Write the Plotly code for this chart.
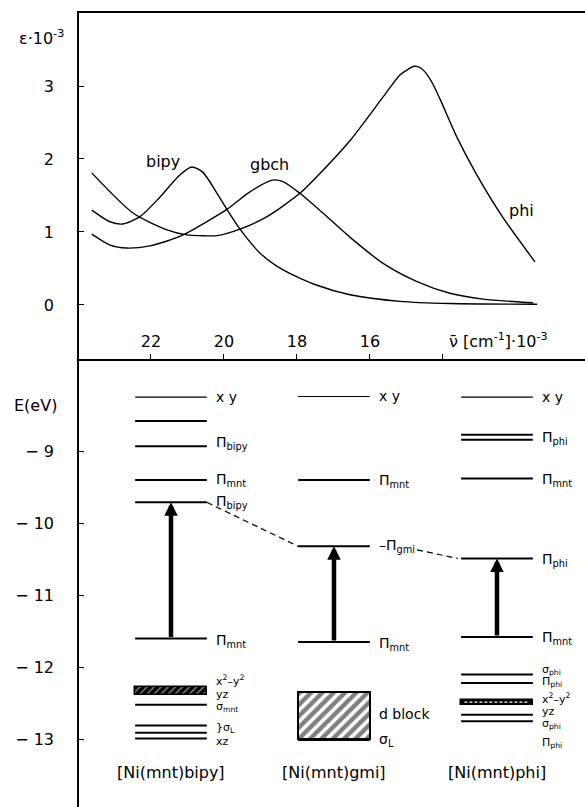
import plotly.graph_objects as go

# ---------------- top panel: absorption spectra ----------------
bipy_nu = [23.62, 23.12, 22.77, 22.30, 21.75, 21.21, 20.88, 20.58, 20.19, 19.92, 19.56, 19.01, 18.38, 17.45, 16.55, 15.18, 13.81, 11.42]
bipy_eps = [1.30, 1.14, 1.11, 1.21, 1.48, 1.78, 1.89, 1.82, 1.53, 1.31, 1.04, 0.71, 0.48, 0.27, 0.14, 0.05, 0.02, 0.01]

gbch_nu = [23.62, 23.12, 22.66, 22.03, 21.60, 21.12, 19.92, 19.29, 18.68, 18.38, 17.92, 17.29, 16.55, 15.64, 14.71, 13.81, 12.90, 11.53]
gbch_eps = [0.97, 0.82, 0.78, 0.81, 0.87, 0.96, 1.31, 1.55, 1.71, 1.69, 1.53, 1.26, 0.93, 0.57, 0.32, 0.16, 0.08, 0.03]

phi_nu = [23.62, 22.49, 21.56, 21.01, 20.66, 20.19, 19.56, 18.82, 17.92, 17.45, 16.55, 15.64, 15.18, 14.95, 14.80, 14.62, 14.44, 14.27, 14.08, 13.62, 13.07, 12.36, 11.48]
phi_eps = [1.81, 1.26, 1.03, 0.96, 0.95, 0.95, 1.04, 1.21, 1.53, 1.76, 2.25, 2.85, 3.15, 3.23, 3.27, 3.25, 3.16, 3.02, 2.82, 2.30, 1.78, 1.20, 0.59]

spectra = [("bipy", bipy_nu, bipy_eps), ("gbch", gbch_nu, gbch_eps), ("phi", phi_nu, phi_eps)]
nu_ticks = [22, 20, 18, 16, 14]
nu_ticktext = ["22", "20", "18", "16", ""]
eps_ticks = [0, 1, 2, 3]

# ---------------- bottom panel: energy levels ----------------
complexes = ["[Ni(mnt)bipy]", "[Ni(mnt)gmi]", "[Ni(mnt)phi]"]
col_pos = [1, 2, 3]

bipy_E = [-8.25, -8.58, -8.93, -9.40, -9.71, -11.60, -12.52, -12.81, -12.91, -12.99]
gmi_E = [-8.24, -9.40, -10.32, -11.65, -13.01]
phi_E = [-8.25, -8.77, -8.84, -9.38, -10.49, -11.58, -12.10, -12.22, -12.66, -12.75]

bipy_lab = ["x y", "Π<sub>bipy</sub>", "Π<sub>mnt</sub>", "Π<sub>bipy</sub>", "Π<sub>mnt</sub>",
            "x<sup>2</sup>–y<sup>2</sup>", "yz", "σ<sub>mnt</sub>", "}σ<sub>L</sub>", "xz"]
bipy_lab_E = [-8.25, -8.88, -9.40, -9.71, -11.63, -12.18, -12.38, -12.55, -12.85, -13.03]
gmi_lab = ["x y", "Π<sub>mnt</sub>", "–Π<sub>gmi</sub>", "Π<sub>mnt</sub>", "d block", "σ<sub>L</sub>"]
gmi_lab_E = [-8.24, -9.42, -10.32, -11.67, -12.65, -13.01]
phi_lab = ["x y", "Π<sub>phi</sub>", "Π<sub>mnt</sub>", "Π<sub>phi</sub>", "Π<sub>mnt</sub>",
           "σ<sub>phi</sub>", "Π<sub>phi</sub>", "x<sup>2</sup>–y<sup>2</sup>", "yz", "σ<sub>phi</sub>", "Π<sub>phi</sub>"]
phi_lab_E = [-8.25, -8.82, -9.40, -10.51, -11.60, -12.04, -12.21, -12.44, -12.61, -12.79, -13.05]

# hatched blocks (x^2-y^2 / yz, d block)
block_base = [-12.38, -13.00, -12.52]
block_top = [-12.27, -12.35, -12.45]

# charge-transfer arrows: from lower Π_mnt to acceptor level
arrow_from = [bipy_E[5], gmi_E[3], phi_E[5]]
arrow_to = [bipy_E[4], gmi_E[2], phi_E[4]]

E_ticks = [-9, -10, -11, -12, -13]
E_ticktext = ["− 9", "− 10", "− 11", "− 12", "− 13"]

# ---------------- figure ----------------
FONT = "DejaVu Sans"
W, H = 585, 807
left = 79 / W
split = 1 - 359 / H
top = 1 - 13 / H
HALF = 0.22
LOFF = 0.265

fig = go.Figure()

for name, nu, eps in spectra:
    fig.add_trace(go.Scatter(x=nu, y=eps, mode="lines", line=dict(color="black", width=1.4, shape="spline", smoothing=0.7),
                             xaxis="x", yaxis="y", showlegend=False, hoverinfo="skip"))

# level lines
for c, levels in zip(col_pos, [bipy_E, gmi_E, phi_E]):
    for i, e in enumerate(levels):
        fig.add_trace(go.Scatter(x=[c - HALF, c + HALF], y=[e, e], mode="lines",
                                 line=dict(color="black", width=1.1 if i == 0 else 2),
                                 xaxis="x2", yaxis="y2", showlegend=False, hoverinfo="skip"))

# hatched blocks
fig.add_trace(go.Bar(x=[col_pos[0]], base=[block_base[0]], y=[block_top[0] - block_base[0]], width=[2 * HALF],
                     marker=dict(color="black", line=dict(color="black", width=1.5),
                                 pattern=dict(shape="/", fgcolor="white", bgcolor="black", size=5, solidity=0.3)),
                     xaxis="x2", yaxis="y2", showlegend=False, hoverinfo="skip"))
fig.add_trace(go.Bar(x=[col_pos[1]], base=[block_base[1]], y=[block_top[1] - block_base[1]], width=[2 * HALF],
                     marker=dict(color="white", line=dict(color="black", width=2),
                                 pattern=dict(shape="/", fgcolor="black", bgcolor="white", size=8, solidity=0.55)),
                     xaxis="x2", yaxis="y2", showlegend=False, hoverinfo="skip"))
fig.add_trace(go.Bar(x=[col_pos[2]], base=[block_base[2]], y=[block_top[2] - block_base[2]], width=[2 * HALF],
                     marker=dict(color="black", line=dict(color="black", width=1.5)),
                     xaxis="x2", yaxis="y2", showlegend=False, hoverinfo="skip"))
mid = (block_base[2] + block_top[2]) / 2
fig.add_trace(go.Scatter(x=[col_pos[2] - HALF + 0.02, col_pos[2] + HALF - 0.02], y=[mid, mid], mode="lines",
                         line=dict(color="white", width=1.2, dash="3px,2px"),
                         xaxis="x2", yaxis="y2", showlegend=False, hoverinfo="skip"))

# dashed connectors between acceptor levels
fig.add_trace(go.Scatter(x=[col_pos[0] + HALF, col_pos[1] - HALF], y=[arrow_to[0], arrow_to[1]], mode="lines",
                         line=dict(color="black", width=1.2, dash="6px,4px"),
                         xaxis="x2", yaxis="y2", showlegend=False, hoverinfo="skip"))
fig.add_trace(go.Scatter(x=[col_pos[1] + 0.51, col_pos[2] - HALF - 0.02], y=[arrow_to[1] - 0.05, arrow_to[2]], mode="lines",
                         line=dict(color="black", width=1.2, dash="6px,4px"),
                         xaxis="x2", yaxis="y2", showlegend=False, hoverinfo="skip"))

annotations = []
# arrows
for c, e0, e1 in zip(col_pos, arrow_from, arrow_to):
    annotations.append(dict(x=c, y=e1, ax=c, ay=e0, xref="x2", yref="y2", axref="x2", ayref="y2",
                            text="", showarrow=True, arrowhead=2, arrowsize=0.6, arrowwidth=4.5,
                            arrowcolor="black", standoff=0, startstandoff=0))

# level labels
for c, labs, es in zip(col_pos, [bipy_lab, gmi_lab, phi_lab], [bipy_lab_E, gmi_lab_E, phi_lab_E]):
    for i, (t, e) in enumerate(zip(labs, es)):
        small = e < -12.0 and t not in ("d block", "σ<sub>L</sub>")
        annotations.append(dict(x=c + LOFF, y=e, xref="x2", yref="y2", text=t, showarrow=False,
                                xanchor="left", yanchor="middle",
                                font=dict(size=11 if small else 14, family=FONT, color="black")))

# category labels
for c, t in zip(col_pos, complexes):
    annotations.append(dict(x=c, y=-13.46, xref="x2", yref="y2", text=t, showarrow=False,
                            xanchor="center", yanchor="middle", font=dict(size=16, family=FONT, color="black")))

# spectrum labels
annotations += [
    dict(x=21.67, y=1.96, xref="x", yref="y", text="bipy", showarrow=False, font=dict(size=16, family=FONT)),
    dict(x=18.74, y=1.92, xref="x", yref="y", text="gbch", showarrow=False, font=dict(size=16, family=FONT)),
    dict(x=11.86, y=1.29, xref="x", yref="y", text="phi", showarrow=False, font=dict(size=16, family=FONT)),
    dict(x=13.89, y=-0.48, xref="x", yref="y", text="\u03bd\u0304 [cm<sup>-1</sup>]·10<sup>-3</sup>", showarrow=False,
         xanchor="left", yanchor="middle", font=dict(size=16, family=FONT)),
    dict(x=41 / W, y=3.67, xref="paper", yref="y", text="ε·10<sup>-3</sup>", showarrow=False,
         xanchor="center", yanchor="middle", font=dict(size=16, family=FONT)),
    dict(x=35 / W, y=-8.36, xref="paper", yref="y2", text="E(eV)", showarrow=False,
         xanchor="center", yanchor="middle", font=dict(size=16, family=FONT)),
]

axis_common = dict(showgrid=False, zeroline=False, linecolor="black", tickcolor="black",
                   tickfont=dict(size=16, family=FONT, color="black"))

fig.update_layout(
    width=W, height=H, margin=dict(l=0, r=0, t=0, b=0),
    paper_bgcolor="white", plot_bgcolor="white", showlegend=False,
    font=dict(family=FONT, color="black"),
    bargap=0,
    xaxis=dict(domain=[left, 1], range=[23.97, 10.11], anchor="y", showline=True, mirror=True, linewidth=1.6,
               ticks="inside", ticklen=5, tickwidth=1.2, tickvals=nu_ticks, ticktext=nu_ticktext,
               ticklabelposition="inside", ticklabelstandoff=4, **axis_common),
    yaxis=dict(domain=[split, top], range=[-0.74, 4.0], anchor="x", showline=True, linewidth=1.6,
               ticks="inside", ticklen=5, tickwidth=1.2, tickvals=eps_ticks, ticklabelstandoff=20, **axis_common),
    xaxis2=dict(domain=[left, 1], range=[0.4356, 3.54], anchor="y2", visible=False),
    yaxis2=dict(domain=[0, split], range=[-13.94, -7.72], anchor="x2", showline=True, linewidth=1.6,
                ticks="inside", ticklen=5, tickwidth=1.2, tickvals=E_ticks, ticktext=E_ticktext,
                ticklabelstandoff=20, **axis_common),
    annotations=annotations,
)

fig.write_html("out.html", config={"displayModeBar": False},
               post_script="document.body.style.margin='0';document.body.style.overflow='hidden';")
